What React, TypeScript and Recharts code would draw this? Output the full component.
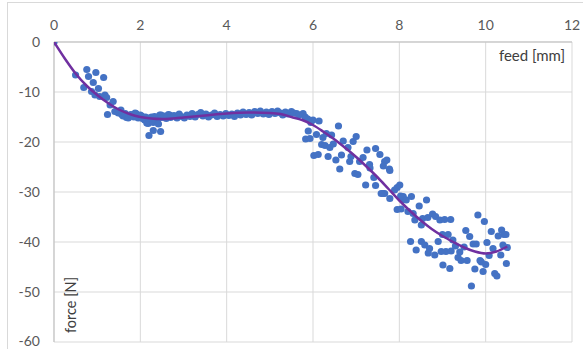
import React from 'react';
import { ComposedChart, Scatter, Line, XAxis, YAxis, CartesianGrid } from 'recharts';

const xTicks = [0, 2, 4, 6, 8, 10, 12];
const yTicks = [0, -10, -20, -30, -40, -50, -60];

// measured points: [feed mm, force N]
const measuredPoints: [number, number][] = [
  [0, 0],
  [0.5, -6.6], [0.76, -5.5], [0.8, -6.9], [0.97, -6.1], [1.15, -7.1], [0.69, -9.1], [0.91, -8.1],
  [0.87, -9.9], [1.03, -9.3], [0.95, -10.6], [1.06, -10.9], [1.18, -10.6], [1.22, -11.1],
  [1.37, -11.9], [1.3, -12.6], [1.24, -14.5], [1.41, -13.9], [1.49, -14.2], [1.57, -14.5],
  [1.68, -15.1], [1.8, -14.6], [1.88, -14.2], [1.95, -15.2], [2.03, -14.8], [2.1, -15.6],
  [2.18, -16.3], [2.26, -15.0], [2.37, -15.3], [2.45, -14.6], [2.57, -15.0], [2.68, -14.6],
  [2.2, -18.7], [2.3, -17.7], [2.47, -17.9], [2.15, -16.2],
  [1.55, -13.6], [1.6, -14.8], [1.65, -14.3], [1.72, -15.2], [1.78, -14.5], [1.85, -15.0],
  [1.9, -14.3], [2.0, -14.6], [2.05, -15.3], [2.12, -15.0], [2.2, -15.2], [2.3, -16.1],
  [2.33, -14.9], [2.4, -15.6], [2.42, -16.4], [2.5, -15.1], [2.48, -14.6],
  [2.55, -14.8], [2.6, -15.3], [2.65, -14.5], [2.7, -15.1], [2.78, -14.7], [2.85, -15.2],
  [2.9, -14.4], [2.95, -14.9], [3.02, -15.2], [3.08, -14.6], [3.15, -14.9], [3.2, -14.3],
  [3.27, -15.0], [3.33, -14.5], [3.4, -14.1], [3.45, -14.8], [3.52, -14.4], [3.58, -15.0],
  [3.65, -14.6], [3.72, -14.2], [3.78, -14.9], [3.85, -14.5], [3.92, -14.8], [3.98, -14.3],
  [4.05, -14.7], [4.12, -14.4], [4.18, -14.9], [4.25, -14.2], [4.32, -14.6], [4.38, -14.0],
  [4.45, -14.5], [4.52, -14.1], [4.58, -14.6], [4.65, -13.9], [4.72, -14.3], [4.78, -13.8],
  [4.85, -14.4], [4.92, -14.0], [4.98, -14.5], [5.05, -13.9], [5.12, -14.3], [5.18, -13.8],
  [5.25, -14.2], [5.3, -14.6], [5.36, -14.0], [5.42, -14.4],
  [5.5, -13.9], [5.55, -14.2], [5.62, -14.3], [5.68, -14.6], [5.77, -14.3], [5.82, -15.0],
  [5.88, -15.4], [5.95, -16.1], [6.0, -15.6], [6.14, -15.8], [5.89, -17.8], [6.08, -18.5],
  [5.83, -19.4], [5.93, -19.3], [6.23, -19.1], [6.31, -18.3], [6.43, -18.6], [6.59, -16.8],
  [6.2, -20.5], [6.28, -20.7], [6.39, -21.1], [6.47, -20.4], [6.7, -19.8], [6.81, -21.1],
  [6.93, -19.9], [7.0, -18.9], [6.02, -22.7], [6.12, -22.5], [6.35, -22.9], [6.53, -23.6],
  [6.66, -22.6], [6.62, -25.4], [6.85, -23.9], [6.88, -22.9], [7.08, -23.9], [7.16, -23.1],
  [7.25, -21.6], [7.45, -21.3], [7.55, -22.5], [7.31, -24.5], [7.32, -25.2], [6.97, -26.3],
  [7.04, -26.5], [7.66, -23.9], [7.71, -23.6], [7.63, -24.8], [7.77, -25.4], [7.41, -27.1],
  [7.22, -28.6], [7.45, -28.7], [7.62, -30.3], [7.78, -31.3], [7.89, -29.6], [7.95, -29.1],
  [8.03, -30.8], [8.1, -31.5], [7.78, -25.7], [7.66, -30.3], [8.01, -28.6], [7.58, -30.3],
  [7.95, -33.5], [8.04, -33.4], [8.09, -30.9], [8.16, -31.6], [8.28, -30.9], [8.2, -33.9],
  [8.32, -34.3], [8.36, -35.6], [8.46, -32.8], [8.63, -31.6], [8.51, -36.6], [8.54, -35.3],
  [8.66, -35.1], [8.77, -34.4], [8.84, -34.9], [8.94, -35.6], [9.05, -35.5], [9.19, -35.5],
  [8.26, -39.9], [8.39, -41.6], [8.51, -39.9], [8.59, -40.6], [8.7, -41.3], [8.67, -42.2],
  [8.82, -42.6], [8.9, -39.9], [9.0, -38.5], [9.13, -38.5], [8.97, -41.9], [9.08, -41.9],
  [9.2, -41.8], [9.24, -39.6], [9.3, -40.8], [9.01, -44.6], [9.17, -45.3], [9.36, -43.1],
  [9.43, -43.7], [9.54, -37.7], [9.57, -43.7], [9.63, -38.9], [9.71, -40.4], [9.78, -40.4],
  [9.75, -45.4], [9.82, -34.6], [9.87, -43.7], [9.9, -44.0], [9.94, -45.9], [9.97, -35.9],
  [10.0, -44.5], [10.03, -40.1], [10.08, -42.7], [10.13, -37.9], [10.17, -41.3], [10.21, -46.3],
  [10.26, -46.8], [10.29, -38.8], [10.35, -42.6], [10.37, -37.6], [10.42, -38.5], [10.47, -38.5],
  [10.4, -40.6], [10.5, -41.1], [10.48, -44.3], [9.67, -48.8], [9.5, -41.0], [9.4, -42.0],
];

const trendFeed = [0, 0.25, 0.5, 0.75, 1.0, 1.25, 1.5, 1.75, 2.0, 2.25, 2.5, 2.75, 3.0, 3.5, 4.0, 4.5, 5.0, 5.25, 5.5, 5.75, 6.0, 6.25, 6.5, 6.75, 7.0, 7.25, 7.5, 7.75, 8.0, 8.25, 8.5, 8.75, 9.0, 9.25, 9.5, 9.75, 10.0, 10.25, 10.5];
const trendForce = [0, -3.3, -6.3, -8.7, -10.6, -12.2, -13.5, -14.4, -15.0, -15.3, -15.4, -15.3, -15.1, -14.7, -14.3, -14.1, -14.2, -14.4, -15.0, -15.6, -16.6, -18.0, -19.5, -21.2, -23.0, -25.0, -27.1, -29.4, -31.7, -33.8, -35.7, -37.4, -38.8, -40.0, -41.1, -41.9, -42.3, -41.9, -40.9];

const scatterData = measuredPoints.map(([x, y]) => ({ x, y }));
const trendData = trendFeed.map((x, i) => ({ x, y: trendForce[i] }));

const FONT = 'Lato, "Open Sans", sans-serif';
const tickStyle = { fontSize: 14, fill: '#595959', fontFamily: FONT };

const Dot = (props: any) => (
  <circle cx={props.cx} cy={props.cy} r={3.6} fill="#4472C4" stroke="none" />
);

export default function App() {
  const lineProps: any = { zIndex: 2000 };
  return (
    <div style={{ position: 'fixed', left: 0, top: 0, width: 583, height: 349, overflow: 'hidden', background: '#fff' }}>
      <div style={{ position: 'absolute', left: 7, top: 2, width: 600, height: 400, border: '1px solid #d9d9d9' }} />
      <div style={{ position: 'absolute', left: 0, top: 0 }}>
        <ComposedChart width={583} height={349} margin={{ top: 12, right: 11, bottom: 7, left: 0 }}>
          <CartesianGrid stroke="#d9d9d9" strokeWidth={1} />
          <XAxis
            type="number"
            dataKey="x"
            orientation="top"
            domain={[0, 12]}
            ticks={xTicks}
            height={30}
            tickLine={false}
            tickSize={0}
            tickMargin={12}
            axisLine={{ stroke: '#bfbfbf' }}
            tick={tickStyle}
            allowDataOverflow
          />
          <YAxis
            type="number"
            dataKey="y"
            domain={[-60, 0]}
            ticks={yTicks}
            width={54}
            tickLine={false}
            tickSize={0}
            tickMargin={14}
            axisLine={{ stroke: '#bfbfbf' }}
            tick={tickStyle}
            allowDataOverflow
          />
          <Scatter data={scatterData} dataKey="y" shape={Dot} isAnimationActive={false} />
          <Line {...lineProps} data={trendData} dataKey="y" type="monotone" stroke="#7030A0" strokeWidth={2.5} dot={false} activeDot={false} isAnimationActive={false} />
        </ComposedChart>
      </div>
      <svg width={583} height={349} style={{ position: 'absolute', left: 0, top: 0, pointerEvents: 'none' }}>
        <text x={565} y={61} textAnchor="end" fontSize={15} fill="#404040" fontFamily={FONT}>feed [mm]</text>
        <text x={76} y={305} textAnchor="middle" fontSize={14.5} fill="#404040" fontFamily={FONT} transform="rotate(-90, 76, 305)">force [N]</text>
      </svg>
    </div>
  );
}
